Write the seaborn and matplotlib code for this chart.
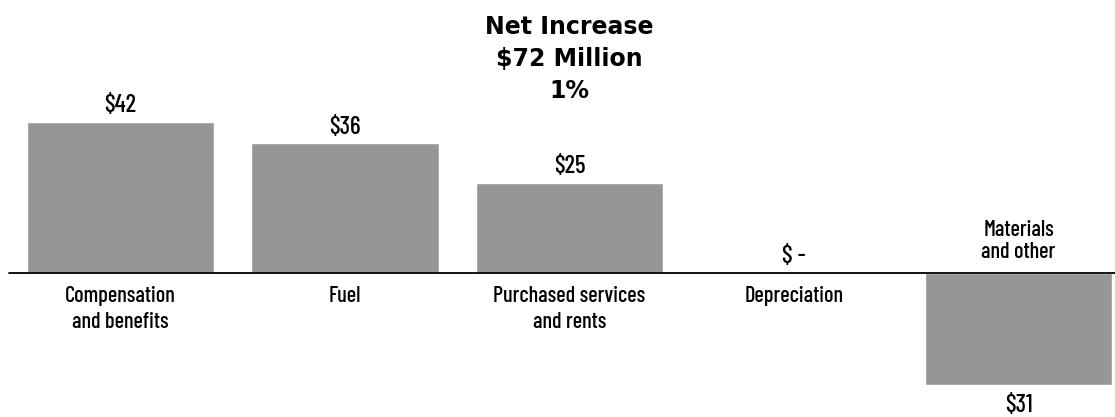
import matplotlib
matplotlib.use("Agg")
import matplotlib.pyplot as plt
import seaborn as sns
import pandas as pd

categories = ["Compensation\nand benefits", "Fuel", "Purchased services\nand rents",
              "Depreciation", "Materials\nand other"]
values = [42, 36, 25, 0, -31]
value_labels = ["$42", "$36", "$25", "$ -", "$31"]
title_lines = ["Net Increase", "$72 Million", "1%"]

sns.set_theme(style="white")
plt.rcParams["font.family"] = ["Barlow Condensed", "DejaVu Sans"]
plt.rcParams["text.color"] = "black"

df = pd.DataFrame({"category": categories, "value": values})

fig = plt.figure(figsize=(11.15, 4.17), dpi=100)
ax = fig.add_axes([0, 0, 1, 1])
sns.barplot(data=df, x="category", y="value", color="#969696", saturation=1,
            width=0.833, ax=ax)

ax.set_xlim(-0.5367, 4.4298)
ax.set_ylim(-40, 75.83)
ax.axhline(0, xmin=9 / 1115, xmax=1, color="black", lw=1.3)
ax.axis("off")

px = 1 / 3.6  # data units per pixel
for i, (cat, v, lab) in enumerate(zip(categories, values, value_labels)):
    if v >= 0:
        ax.text(i, v + 16 * px, lab, ha="center", va="center", fontsize=18,
                fontweight="medium")
        ax.text(i, -13 * px, cat, ha="center", va="top", fontsize=16,
                fontweight="medium", linespacing=1.4)
    else:
        ax.text(i, v - 21 * px, lab, ha="center", va="center", fontsize=18,
                fontweight="medium")
        ax.text(i, 11 * px, cat, ha="center", va="bottom", fontsize=16,
                fontweight="medium", linespacing=1.15)

ax.text(2, 75.83 - 59 * px, "\n".join(title_lines), ha="center", va="center",
        fontsize=17, fontweight="bold", family="DejaVu Sans", linespacing=1.42)

fig.savefig("out.png", dpi=100)
